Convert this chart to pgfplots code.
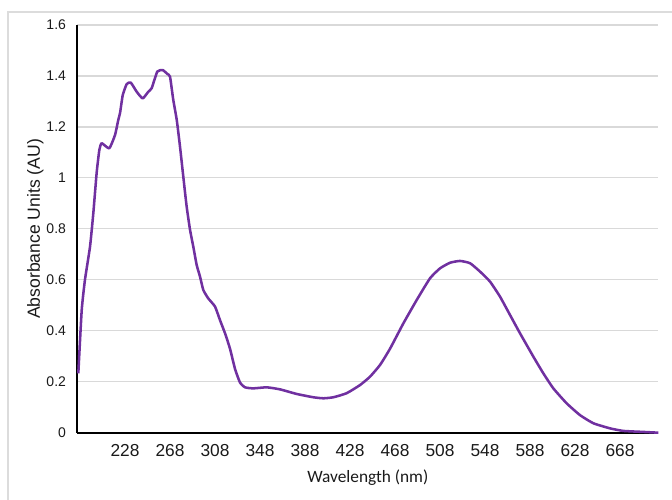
\documentclass[border=0pt]{standalone}
\usepackage{pgfplots}
\pgfplotsset{compat=1.18}
\usepackage{fontspec}
\setmainfont{Liberation Sans}
\newfontfamily\carlito{Carlito}
\definecolor{curve}{HTML}{7030A0}
\definecolor{gridc}{HTML}{D9D9D9}
\definecolor{borderc}{HTML}{DCDCDC}
\definecolor{txt}{HTML}{1A1A1A}
\begin{document}
\begin{tikzpicture}
\path[use as bounding box] (0,0) rectangle (504pt,375pt);
\draw[borderc,line width=1pt] (6pt,-5pt) -- (6pt,366pt) -- (510pt,366pt);
\begin{axis}[
  at={(57.98pt,50.48pt)}, anchor=south west,
  scale only axis, width=435.75pt, height=305.78pt,
  xmin=185.6, xmax=702, ymin=0, ymax=1.6,
  axis x line=bottom, axis y line=left,
  axis line style={-, black, line width=1.5pt},
  xtick={228,268,...,668},
  ytick={0,0.2,0.4,0.6,0.8,1,1.2,1.4,1.6},
  yticklabels={0,0.2,0.4,0.6,0.8,1,1.2,1.4,1.6},
  major tick length=0pt,
  ymajorgrids, grid style={gridc, line width=0.9pt},
  /pgf/number format/assume math mode=true,
  xticklabel style={font=\fontsize{13}{15}\selectfont, text=txt, yshift=-5.5pt},
  yticklabel style={font=\fontsize{10.5}{12}\selectfont, text=txt, xshift=-5pt},
  xlabel={Wavelength (nm)},
  ylabel={Absorbance Units (AU)},
  xlabel style={at={(axis description cs:0.5,-0.111)}, anchor=center, font=\carlito\fontsize{13}{15}\selectfont, text=txt},
  ylabel style={at={(axis description cs:-0.0723,0.5)}, anchor=center, font=\fontsize{13.2}{15}\selectfont, text=txt},
  clip=false,
]
\addplot[curve, line width=1.9pt, line join=round, no markers, smooth, tension=0.3] coordinates {
(186.5,0.233) (189.5,0.48) (192.4,0.60) (196.9,0.73) (199.8,0.86) (202.8,1.02)
(205.2,1.11) (207.3,1.136) (214.0,1.116) (219.1,1.168) (222.0,1.227) (223.6,1.255)
(226.0,1.325) (229.5,1.368) (233.1,1.374) (238.4,1.338) (243.7,1.312) (248.7,1.338)
(251.7,1.352) (256.7,1.417) (261.5,1.423) (265.6,1.408) (268,1.397) (270.9,1.306)
(274,1.227) (276.9,1.122) (279.8,1.005) (282.8,0.887) (285.8,0.796) (288.7,0.730)
(291.7,0.658) (294.7,0.612) (297.6,0.56) (302.0,0.527) (308.0,0.495) (312.4,0.442)
(316.9,0.39) (321.3,0.33) (325.8,0.25) (330.2,0.197) (334.7,0.178) (342,0.174)
(354,0.178) (365.8,0.170) (380.6,0.152) (395.4,0.139) (404.3,0.135) (413.2,0.139)
(425,0.155) (436.9,0.187) (445.8,0.22) (454.7,0.266) (463.6,0.33) (475.4,0.429)
(487.3,0.521) (499.1,0.606) (508,0.645) (516.9,0.667) (525.8,0.674) (534.7,0.665)
(543.6,0.632) (552.4,0.593) (561.3,0.534) (570.2,0.462) (579.1,0.39) (591,0.298)
(599.8,0.233) (608.7,0.174) (620.6,0.115) (632.4,0.069) (644.3,0.037) (659.1,0.017)
(670.9,0.007) (688.7,0.003) (702,0.0)
};
\end{axis}
\end{tikzpicture}
\end{document}
